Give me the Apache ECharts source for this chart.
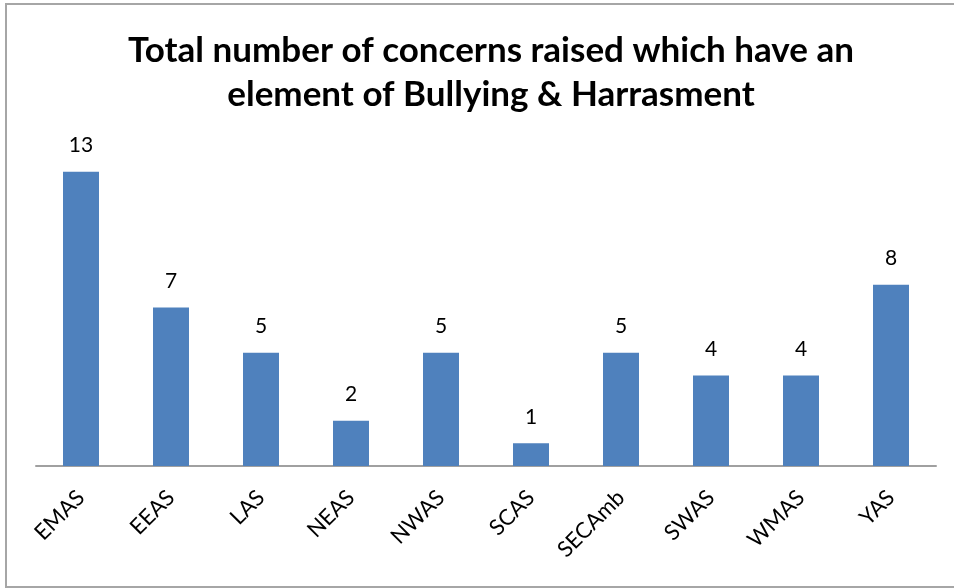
<!DOCTYPE html>
<html>
<head>
<meta charset="utf-8">
<script src="https://cdn.jsdelivr.net/npm/echarts@6/dist/echarts.min.js"></script>
<style>
  html, body { margin: 0; padding: 0; background: #fff; }
  #chart { width: 954px; height: 588px; }
</style>
</head>
<body>
<div id="chart"></div>
<script>
// Concerns per ambulance service
const services = ["EMAS", "EEAS", "LAS", "NEAS", "NWAS", "SCAS", "SECAmb", "SWAS", "WMAS", "YAS"]
const concerns = [13, 7, 5, 2, 5, 1, 5, 4, 4, 8]

const chart = echarts.init(document.getElementById("chart"))
const font = "Lato, 'Open Sans', sans-serif"

chart.setOption({
  animation: false,
  backgroundColor: "#fff",
  title: {
    text: "Total number of concerns raised which have an\nelement of Bullying & Harrasment",
    left: 486,
    top: 24,
    textAlign: "center",
    textStyle: { fontFamily: font, fontWeight: "bold", fontSize: 35, lineHeight: 44, color: "#000" },
  },
  // chart frame
  graphic: [{
    type: "rect",
    shape: { x: 6, y: 4, width: 960, height: 583 },
    style: { fill: "none", stroke: "#a6a6a6", lineWidth: 2 },
    silent: true,
  }],
  grid: { left: 36, right: 18, top: 149, bottom: 122 },
  xAxis: {
    type: "category",
    data: services,
    axisLine: { lineStyle: { color: "#a0a0a0", width: 2 } },
    axisTick: { show: false },
    axisLabel: { rotate: 45, margin: 28, fontFamily: font, fontSize: 22, color: "#000" },
  },
  yAxis: {
    type: "value",
    min: 0,
    max: 14,
    show: false,
    splitLine: { show: false },
  },
  series: [{
    type: "bar",
    data: concerns,
    barWidth: 36,
    itemStyle: { color: "#4f81bd" },
    label: { show: true, position: "top", distance: 16, fontFamily: font, fontSize: 21, color: "#000" },
  }],
})
</script>
</body>
</html>
